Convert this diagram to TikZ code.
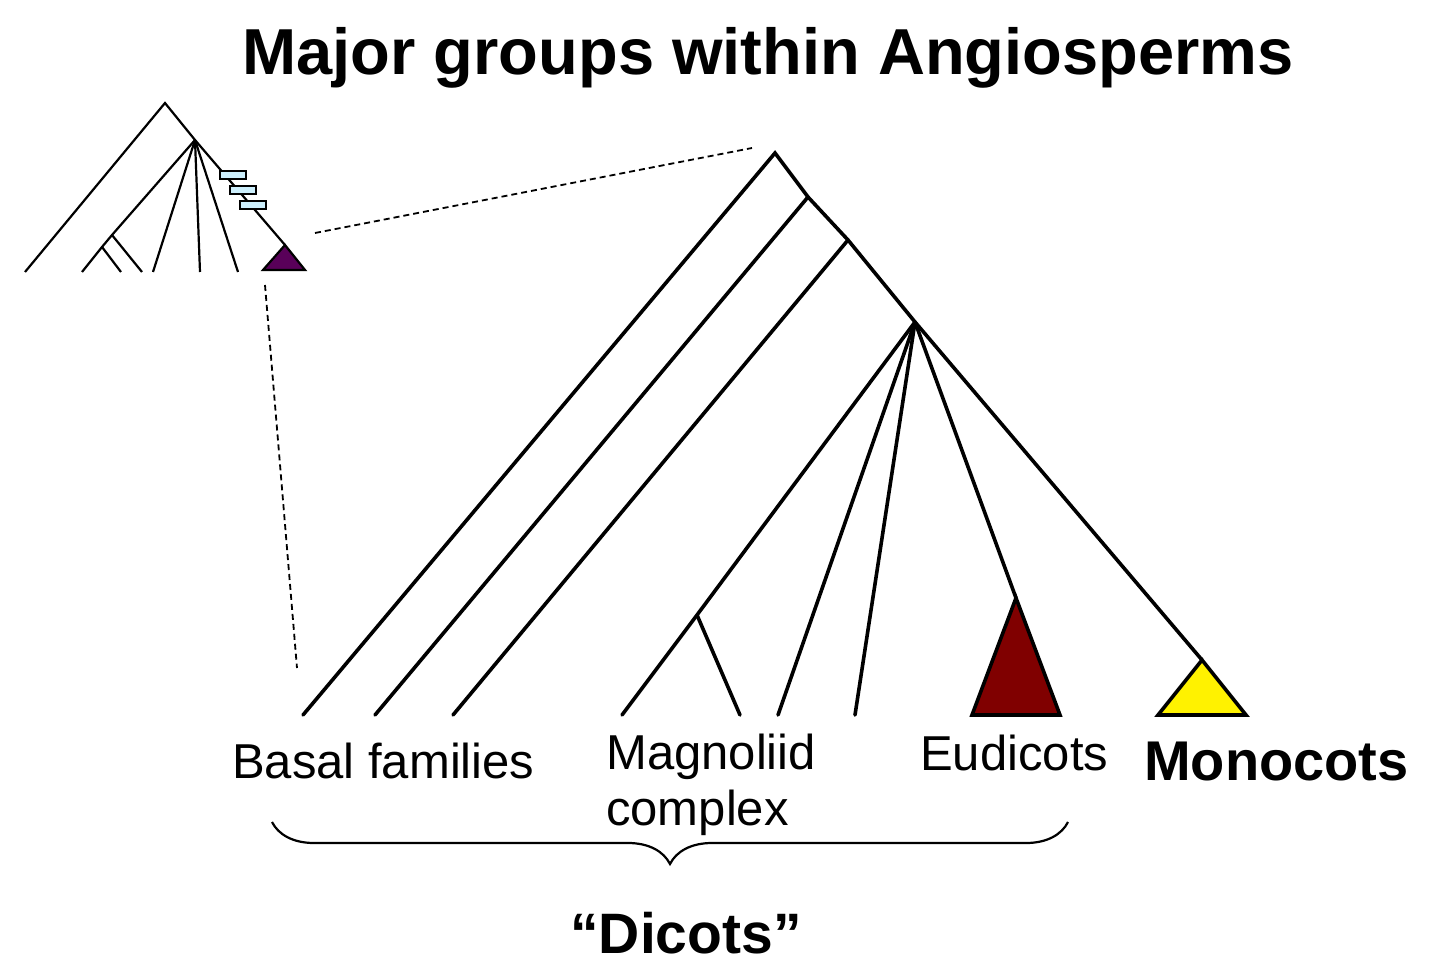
\documentclass[tikz,border=0pt]{standalone}
\usepackage{fontspec}
\setmainfont{Liberation Sans}
\usetikzlibrary{decorations.pathreplacing}
\begin{document}
\begin{tikzpicture}[x=1pt,y=-1pt,
  br/.style={line width=3.6pt,line cap=round},
  sb/.style={line width=2.2pt},
  lab/.style={font=\fontsize{49}{56}\selectfont,anchor=base west,inner sep=0},
  box/.style={draw,fill=cyan!20!white,line width=1.2pt,minimum width=26pt,minimum height=8pt,inner sep=0}]
\useasboundingbox (0,0) rectangle (1440,973);
\node[font=\bfseries\fontsize{65}{70}\selectfont] (title) at (768,58) {Major groups within Angiosperms};
% small tree
\coordinate (sa) at (165,103); \coordinate (sn) at (195,140);
\coordinate (s1) at (112,235); \coordinate (s2) at (102,247);
\coordinate (sm) at (285,245);
\draw[sb] (25,272) -- (sa) -- (sn) -- (sm);
\draw[sb] (sn) -- (s1) -- (s2) -- (82,272);
\draw[sb] (s1) -- (142,272); \draw[sb] (s2) -- (121,272);
\draw[sb] (sn) -- (153,272); \draw[sb] (sn) -- (200,272); \draw[sb] (sn) -- (238,272);
\draw[sb,fill=violet!70!black] (sm) -- (305,270) -- (263,270) -- cycle;
\node[box] (b1) at (233,175) {}; \node[box] (b2) at (243,190) {}; \node[box] (b3) at (253,205) {};
% dashed
\coordinate (d1) at (315,233); \coordinate (d2) at (752,148);
\coordinate (d3) at (265,285); \coordinate (d4) at (297,668);
\draw[line width=1.8pt,dash pattern=on 6pt off 4pt] (d1) -- (d2);
\draw[line width=1.8pt,dash pattern=on 6pt off 4pt] (d3) -- (d4);
% main tree
\coordinate (a) at (775,153); \coordinate (n1) at (808,197); \coordinate (n2) at (848,240);
\coordinate (n3) at (915,322); \coordinate (mo) at (1202,660); \coordinate (eu) at (1016,598);
\coordinate (mg) at (697,615);
\draw[br] (303,715) -- (a) -- (n1) -- (n2) -- (n3) -- (mo);
\draw[br] (n1) -- (375,715); \draw[br] (n2) -- (453,715);
\draw[br] (n3) -- (mg) -- (622,715); \draw[br] (mg) -- (740,715);
\draw[br] (n3) -- (778,715); \draw[br] (n3) -- (855,715); \draw[br] (n3) -- (eu);
\draw[br,line cap=butt,line join=miter,fill=red!50!black] (eu) -- (1060,715) -- (972,715) -- cycle;
\draw[br,line cap=butt,line join=miter,fill=yellow] (mo) -- (1246,715) -- (1158,715) -- cycle;
% labels
\node[lab] (basal) at (232,778) {Basal families};
\node[lab,align=left,anchor=north west] (mag) at (606,734) {Magnoliid\\complex};
\node[lab] (eud) at (920,770) {Eudicots};
\node[lab,font=\bfseries\fontsize{56}{60}\selectfont] (mono) at (1144,780) {Monocots};
\coordinate (bl) at (272,822); \coordinate (brr) at (1068,822);
\draw[line width=2.2pt,decorate,decoration={brace,mirror,amplitude=42pt,aspect=0.5}] (bl) -- (brr);
\node[font=\bfseries\fontsize{57}{60}\selectfont] (dic) at (686,933) {“Dicots”};
\end{tikzpicture}
\end{document}
